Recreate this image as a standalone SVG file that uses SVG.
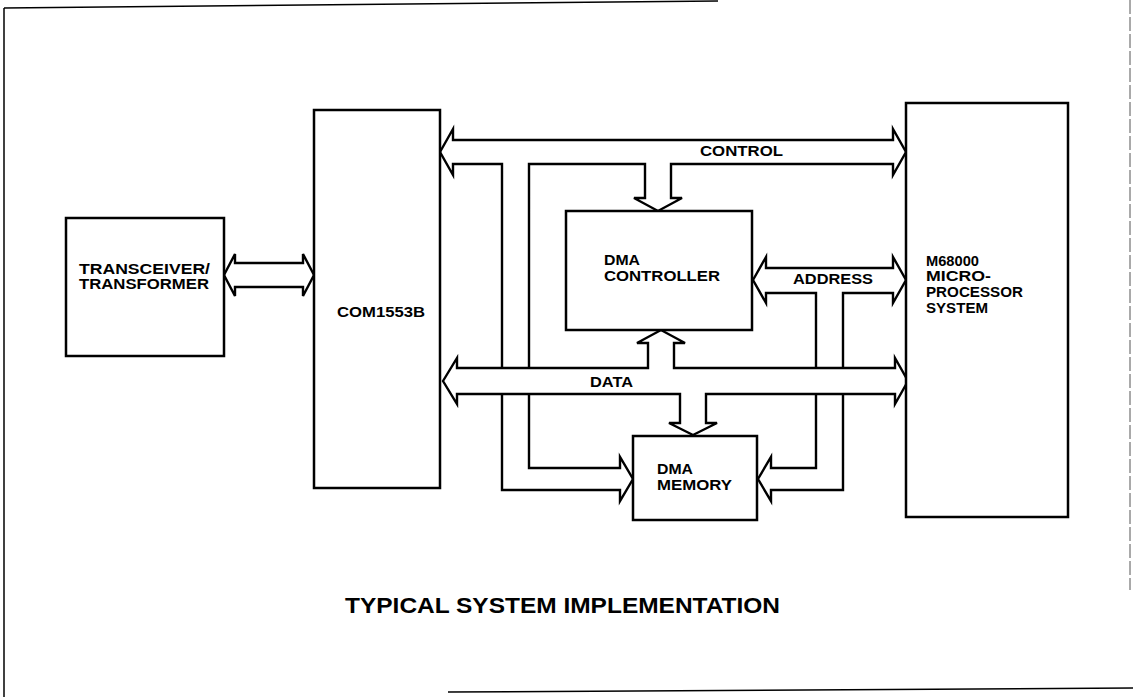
<svg xmlns="http://www.w3.org/2000/svg" width="1133" height="697" viewBox="0 0 1133 697">
<style>
.box{fill:#fff;stroke:#000;stroke-width:2.5}
.bus{fill:#fff;stroke:#000;stroke-width:2.4;stroke-linejoin:miter}
.frame{fill:none;stroke:#000;stroke-width:1.5}
text{font-family:"Liberation Sans",Arial,Helvetica,sans-serif;font-weight:bold;font-size:15.5px;fill:#000}
.sm{font-size:14.5px}
.title{font-size:22px}
</style>
<rect width="1133" height="697" fill="#fff"/>
<g id="frame">
<line class="frame" x1="4" y1="8" x2="4" y2="697"/>
<line class="frame" x1="4" y1="8" x2="718" y2="1"/>
<line class="frame" x1="448" y1="692" x2="1133" y2="688"/>
<line x1="1130" y1="0" x2="1130" y2="590" stroke="#555" stroke-width="1" stroke-dasharray="14 3"/>
</g>
<g id="connectors">
<path id="bus-xcvr" class="bus" d="M224,275 L235,254 L235,263 L303,263 L303,254 L314,275 L303,296 L303,287 L235,287 L235,296 Z"/>
<path id="bus-control" class="bus" d="M440,152 L453,129 L453,140 L893,140 L893,129 L906,152 L893,175 L893,164 L671,164 L671,198 L682,198 L658,211 L634,198 L645,198 L645,164 L529,164 L529,468 L620,468 L620,457 L633,479 L620,501 L620,490 L502,490 L502,164 L453,164 L453,175 Z"/>
<path id="bus-address" class="bus" d="M753,280 L766,257 L766,268 L893,268 L893,257 L906,280 L893,303 L893,293 L843,293 L843,490 L771,490 L771,501 L758,479 L771,457 L771,468 L816,468 L816,293 L766,293 L766,303 Z"/>
<path id="bus-data" class="bus" d="M443,381 L457,358 L457,368 L648,368 L648,343 L637,343 L661,330 L685,343 L674,343 L674,368 L895,368 L895,358 L908,381 L895,404 L895,394 L706,394 L706,423 L717,423 L693,435 L669,423 L680,423 L680,394 L457,394 L457,404 Z"/>
<text x="700" y="156" textLength="83" lengthAdjust="spacingAndGlyphs">CONTROL</text>
<text x="793" y="284" textLength="80" lengthAdjust="spacingAndGlyphs">ADDRESS</text>
<text x="590" y="387" textLength="43" lengthAdjust="spacingAndGlyphs">DATA</text>
</g>
<g id="transceiver">
<rect class="box" x="66" y="218" width="158" height="138"/>
<text class="sm" x="79" y="274" textLength="131" lengthAdjust="spacingAndGlyphs">TRANSCEIVER/</text>
<text class="sm" x="79" y="289" textLength="130" lengthAdjust="spacingAndGlyphs">TRANSFORMER</text>
</g>
<g id="com1553b">
<rect class="box" x="314" y="110" width="126" height="378"/>
<text x="337" y="317" textLength="88" lengthAdjust="spacingAndGlyphs">COM1553B</text>
</g>
<g id="dma-controller">
<rect class="box" x="566" y="211" width="186" height="119"/>
<text x="604" y="265" textLength="36" lengthAdjust="spacingAndGlyphs">DMA</text>
<text x="604" y="281" textLength="116" lengthAdjust="spacingAndGlyphs">CONTROLLER</text>
</g>
<g id="dma-memory">
<rect class="box" x="633" y="436" width="124" height="84"/>
<text x="657" y="474" textLength="36" lengthAdjust="spacingAndGlyphs">DMA</text>
<text x="657" y="490" textLength="75" lengthAdjust="spacingAndGlyphs">MEMORY</text>
</g>
<g id="m68000">
<rect class="box" x="906" y="103" width="162" height="414"/>
<text x="926" y="266" textLength="53" lengthAdjust="spacingAndGlyphs">M68000</text>
<text x="926" y="281" textLength="65" lengthAdjust="spacingAndGlyphs">MICRO-</text>
<text x="926" y="297" textLength="97" lengthAdjust="spacingAndGlyphs">PROCESSOR</text>
<text x="926" y="313" textLength="62" lengthAdjust="spacingAndGlyphs">SYSTEM</text>
</g>
<g id="title">
<text class="title" x="345" y="613" textLength="435" lengthAdjust="spacingAndGlyphs">TYPICAL SYSTEM IMPLEMENTATION</text>
</g>
</svg>
